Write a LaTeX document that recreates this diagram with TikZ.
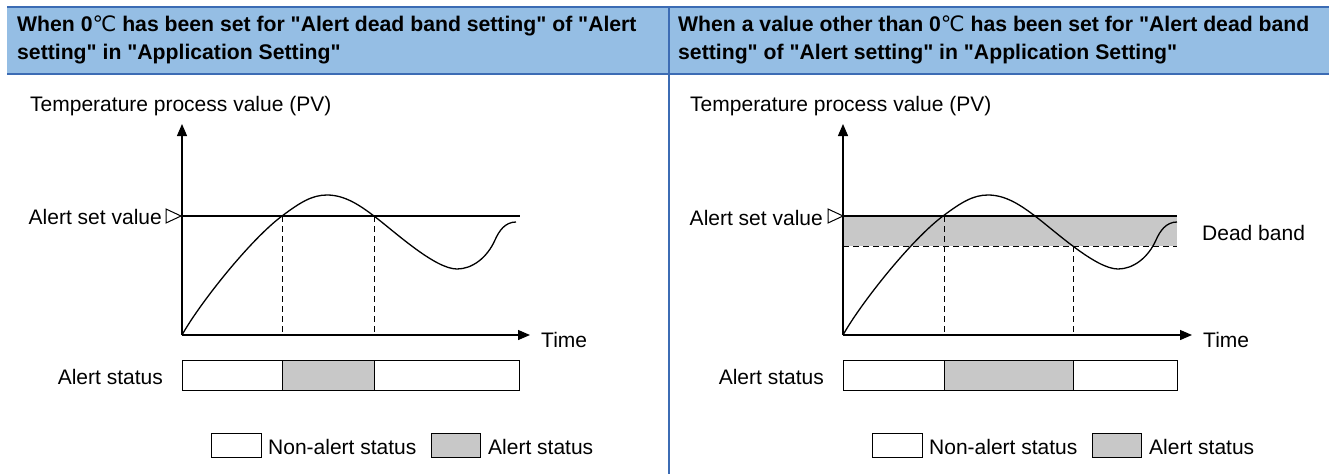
\documentclass[tikz,border=0pt]{standalone}
\usepackage{fontspec}
\setmainfont{Liberation Sans}[Ligatures=TeXOff]
\newfontfamily\symfont{DejaVu Sans}
\usetikzlibrary{arrows.meta}
\definecolor{hdrfill}{RGB}{149,190,228}
\definecolor{hdrline}{RGB}{60,108,180}
\definecolor{bandgray}{RGB}{200,200,200}
\begin{document}
\begin{tikzpicture}[x=1pt,y=-1pt,
  lbl/.style={inner sep=0pt, font=\fontsize{21}{24}\selectfont},
  hdr/.style={inner sep=0pt, anchor=base west, font=\bfseries\fontsize{21.2}{24}\selectfont},
  axisline/.style={line width=1.3pt, -{Triangle[length=12pt,width=10pt]}},
  pvline/.style={line width=1.3pt, line join=round},
  dashline/.style={line width=1pt, dash pattern=on 6pt off 4pt},
  cell/.style={draw, line width=1.3pt, fill=white},
  graycell/.style={draw, line width=1.3pt, fill=bandgray},
  marker/.style={draw, line width=1pt, fill=white}]
\useasboundingbox (0,0) rectangle (1329,474);
% header
\fill[hdrfill] (7,7) rectangle (1329,74);
\draw[hdrline, line width=2pt] (7,7) -- (1329,7);
\draw[hdrline, line width=2pt] (7,74) -- (1329,74);
\draw[hdrline, line width=2pt] (669,7) -- (669,474);
\node[hdr] (hLa) at (17,31) {When 0{\symfont\mdseries ℃} has been set for "Alert dead band setting" of "Alert};
\node[hdr] (hLb) at (17,59) {setting" in "Application Setting"};
\node[hdr] (hRa) at (678,31) {When a value other than 0{\symfont\mdseries ℃} has been set for "Alert dead band};
\node[hdr] (hRb) at (678,59) {setting" of "Alert setting" in "Application Setting"};

% ---------- left panel ----------
\node[lbl, anchor=base west] (Ltitle) at (30,111) {Temperature process value (PV)};
\coordinate (Lo) at (182,335);
\coordinate (Ly) at (182,124);
\coordinate (Lx) at (530,335);
\coordinate (Ls1) at (182,216);
\coordinate (Ls2) at (520,216);
\draw[line width=1.3pt] (Ls1) -- (Ls2);
\draw[dashline] (282,216) -- (282,335);
\draw[dashline] (374,216) -- (374,335);
\draw[axisline] (Lo) -- (Ly);
\draw[axisline] (Lo) -- (Lx);
\draw[marker] (166,209) -- (166,223) -- (181,216) -- cycle;
\node[lbl, anchor=base east] (Lset) at (162,224) {Alert set value};
\node[lbl, anchor=base west] (Ltime) at (541,347) {Time};
\draw[pvline] (182,335) .. controls (200,303) and (250,240) .. (282,216)
  .. controls (300,202.5) and (312,195) .. (327,195)
  .. controls (345,195) and (360,205.5) .. (374,216)
  .. controls (395,232) and (435,269) .. (457,269)
  .. controls (472,269) and (487,258) .. (495,240)
  .. controls (499,231) and (505,222) .. (516,222);
\node[cell, minimum width=100pt, minimum height=30pt, anchor=north west] (Lb1) at (182,360) {};
\node[graycell, minimum width=92pt, minimum height=30pt, anchor=north west] (Lb2) at (282,360) {};
\node[cell, minimum width=145pt, minimum height=30pt, anchor=north west] (Lb3) at (374,360) {};
\node[lbl, anchor=base east] (Lstat) at (163,384) {Alert status};
\node[cell, minimum width=50pt, minimum height=24pt, anchor=north west] (Lk1) at (211,433) {};
\node[lbl, anchor=base west] (Lk1t) at (268,454) {Non-alert status};
\node[graycell, minimum width=49pt, minimum height=24pt, anchor=north west] (Lk2) at (431,433) {};
\node[lbl, anchor=base west] (Lk2t) at (488,454) {Alert status};

% ---------- right panel ----------
\node[lbl, anchor=base west] (Rtitle) at (690,111) {Temperature process value (PV)};
\coordinate (Ro) at (843,335);
\coordinate (Ry) at (843,124);
\coordinate (Rx) at (1192,335);
\fill[bandgray] (843,216) rectangle (1177,246);
\draw[line width=1.3pt] (843,216) -- (1177,216);
\draw[dashline] (843,246) -- (1177,246);
\draw[dashline] (944,216) -- (944,335);
\draw[dashline] (1073,246) -- (1073,335);
\draw[axisline] (Ro) -- (Ry);
\draw[axisline] (Ro) -- (Rx);
\draw[marker] (828,209) -- (828,223) -- (843,216) -- cycle;
\node[lbl, anchor=base east] (Rset) at (823,225) {Alert set value};
\node[lbl, anchor=base west] (Rtime) at (1203,347) {Time};
\node[lbl, anchor=base west] (Rdead) at (1202,240) {Dead band};
\begin{scope}[xshift=661pt]
\draw[pvline] (182,335) .. controls (200,303) and (250,240) .. (282,216)
  .. controls (300,202.5) and (312,195) .. (327,195)
  .. controls (345,195) and (360,205.5) .. (374,216)
  .. controls (395,232) and (435,269) .. (457,269)
  .. controls (472,269) and (487,258) .. (495,240)
  .. controls (499,231) and (505,222) .. (516,222);
\end{scope}
\node[cell, minimum width=101pt, minimum height=30pt, anchor=north west] (Rb1) at (843,360) {};
\node[graycell, minimum width=129pt, minimum height=30pt, anchor=north west] (Rb2) at (944,360) {};
\node[cell, minimum width=104pt, minimum height=30pt, anchor=north west] (Rb3) at (1073,360) {};
\node[lbl, anchor=base east] (Rstat) at (824,384) {Alert status};
\node[cell, minimum width=50pt, minimum height=24pt, anchor=north west] (Rk1) at (872,433) {};
\node[lbl, anchor=base west] (Rk1t) at (929,454) {Non-alert status};
\node[graycell, minimum width=49pt, minimum height=24pt, anchor=north west] (Rk2) at (1092,433) {};
\node[lbl, anchor=base west] (Rk2t) at (1149,454) {Alert status};
\end{tikzpicture}
\end{document}
